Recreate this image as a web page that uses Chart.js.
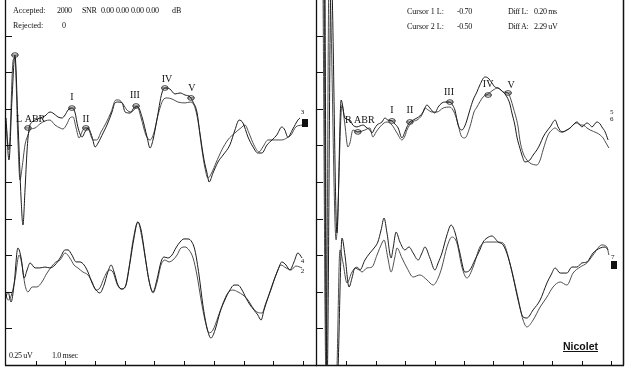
<!DOCTYPE html>
<html><head><meta charset="utf-8">
<script src="https://cdn.jsdelivr.net/npm/chart.js@4.4.1/dist/chart.umd.min.js"></script>
<style>
html,body{margin:0;padding:0;background:#fff;}
#wrap{position:relative;width:626px;height:370px;overflow:hidden;background:#fff;}
canvas{position:absolute;left:0;top:0;}
.t{position:absolute;font-family:"Liberation Serif","DejaVu Serif",serif;font-size:8px;color:#111;white-space:nowrap;line-height:1;}
.n{letter-spacing:-0.35px;}
.nic{position:absolute;left:563px;top:341px;font-family:"Liberation Sans",Arial,sans-serif;font-weight:bold;font-size:10.5px;color:#111;text-decoration:underline;line-height:1;}
</style></head><body>
<div id="wrap">
<canvas id="cl" width="626" height="370"></canvas>
<canvas id="cr" width="626" height="370"></canvas>
<div class="t" style="left:13px;top:7px">Accepted:</div>
<div class="t n" style="left:57px;top:7px">2000</div>
<div class="t n" style="left:82px;top:7px">SNR</div>
<div class="t n" style="left:101px;top:7px">0.00</div>
<div class="t n" style="left:116px;top:7px">0.00</div>
<div class="t n" style="left:131px;top:7px">0.00</div>
<div class="t n" style="left:146px;top:7px">0.00</div>
<div class="t" style="left:172px;top:7px">dB</div>
<div class="t" style="left:13px;top:22px">Rejected:</div>
<div class="t" style="left:62px;top:22px">0</div>
<div class="t" style="left:407px;top:8px">Cursor 1 L:</div>
<div class="t n" style="left:457px;top:8px">-0.70</div>
<div class="t n" style="left:508px;top:8px">Diff L:</div>
<div class="t n" style="left:534px;top:8px">0.20 ms</div>
<div class="t" style="left:407px;top:23px">Cursor 2 L:</div>
<div class="t n" style="left:457px;top:23px">-0.50</div>
<div class="t n" style="left:508px;top:23px">Diff A:</div>
<div class="t n" style="left:534px;top:23px">2.29 uV</div>
<div class="t n" style="left:9px;top:352px">0.25 uV</div>
<div class="t n" style="left:52px;top:352px">1.0 msec</div>
<div class="nic">Nicolet</div>
</div>
<script>
// ---- axis ticks (ms and µV) ----
const msTicks = [1,2,3,4,5,6,7,8,9,10];
const uvTicks = [0.25,0.5,0.75,1.0,1.25,1.5,1.75,2.0,2.25];

// ---- Left ear, upper pair ----
const ulA_t = [0,0.10,0.20,0.30,0.40,0.51,0.57,0.64,0.71,0.77,0.88,0.98,1.14,1.31,1.48,1.58,1.75,1.89,1.99,2.09,2.22,2.32,2.42,2.56,2.66,2.76,2.90,3.00,3.10,3.27,3.40,3.57,3.67,3.77,3.91,4.01,4.18,4.34,4.44,4.58,4.75,4.85,4.95,5.08,5.25,5.35,5.52,5.69,5.86,6.03,6.20,6.30,6.43,6.53,6.67,6.77,6.84,6.97,7.14,7.31,7.54,7.71,7.85,7.98,8.15,8.32,8.48,8.62,8.79,8.96,9.12,9.29,9.39,9.49,9.66,9.83,9.90];
const ulA_v = [1.687,1.400,1.810,2.117,1.673,1.127,0.956,1.195,1.469,1.605,1.660,1.673,1.687,1.701,1.728,1.721,1.694,1.687,1.708,1.742,1.755,1.728,1.626,1.557,1.592,1.619,1.557,1.489,1.516,1.585,1.639,1.728,1.790,1.796,1.790,1.728,1.721,1.762,1.762,1.694,1.557,1.482,1.537,1.673,1.858,1.892,1.885,1.851,1.858,1.844,1.831,1.796,1.728,1.585,1.400,1.311,1.250,1.311,1.387,1.434,1.503,1.605,1.673,1.653,1.557,1.489,1.448,1.448,1.503,1.537,1.571,1.626,1.605,1.557,1.612,1.673,1.687];
const ulB_t = [0,0.10,0.24,0.30,0.40,0.47,0.54,0.64,0.74,0.81,0.98,1.14,1.31,1.48,1.65,1.82,1.92,2.05,2.15,2.26,2.36,2.46,2.59,2.69,2.79,2.93,3.06,3.20,3.37,3.54,3.70,3.80,3.94,4.07,4.21,4.31,4.41,4.55,4.71,4.85,4.98,5.12,5.29,5.42,5.59,5.79,6.03,6.20,6.33,6.46,6.60,6.70,6.80,6.94,7.07,7.27,7.47,7.71,7.91,8.05,8.18,8.35,8.52,8.65,8.82,9.06,9.29,9.46,9.60,9.76,9.97];
const ulB_v = [1.639,1.469,2.083,2.097,1.537,1.264,1.346,1.503,1.571,1.605,1.619,1.646,1.667,1.673,1.639,1.619,1.612,1.646,1.687,1.694,1.619,1.551,1.605,1.619,1.605,1.537,1.537,1.592,1.653,1.728,1.810,1.810,1.783,1.742,1.728,1.742,1.769,1.687,1.571,1.537,1.585,1.708,1.810,1.824,1.817,1.796,1.790,1.796,1.776,1.673,1.469,1.346,1.277,1.318,1.380,1.469,1.537,1.585,1.619,1.639,1.585,1.503,1.455,1.489,1.537,1.537,1.537,1.551,1.571,1.626,1.639];

// ---- Left ear, lower pair ----
const llA_t = [-0.03,0.07,0.17,0.27,0.40,0.51,0.61,0.71,0.81,0.98,1.14,1.31,1.48,1.65,1.82,1.99,2.09,2.22,2.36,2.49,2.63,2.76,2.90,3.03,3.16,3.30,3.43,3.54,3.64,3.77,3.91,4.04,4.18,4.31,4.44,4.55,4.68,4.81,4.95,5.08,5.22,5.32,5.45,5.59,5.72,5.86,5.99,6.13,6.26,6.36,6.50,6.63,6.77,6.90,7.04,7.21,7.37,7.54,7.68,7.81,7.95,8.08,8.22,8.35,8.48,8.59,8.69,8.82,8.99,9.16,9.29,9.43,9.56,9.70,9.83,9.97];
const llA_v = [0.444,0.499,0.430,0.546,0.799,0.731,0.594,0.649,0.697,0.663,0.663,0.669,0.663,0.683,0.731,0.786,0.786,0.751,0.704,0.704,0.683,0.635,0.560,0.512,0.492,0.546,0.635,0.683,0.635,0.546,0.519,0.546,0.704,0.867,0.977,0.922,0.751,0.581,0.499,0.581,0.704,0.738,0.731,0.751,0.799,0.840,0.861,0.861,0.840,0.786,0.615,0.410,0.253,0.184,0.239,0.362,0.444,0.512,0.546,0.546,0.512,0.458,0.410,0.376,0.342,0.307,0.376,0.458,0.560,0.649,0.704,0.683,0.649,0.704,0.765,0.731];
const llB_t = [-0.03,0.07,0.17,0.30,0.44,0.54,0.64,0.74,0.88,1.04,1.21,1.38,1.55,1.68,1.82,1.99,2.15,2.29,2.42,2.59,2.76,2.90,3.03,3.16,3.30,3.47,3.60,3.74,3.87,4.01,4.14,4.28,4.44,4.58,4.71,4.85,4.95,5.08,5.22,5.35,5.49,5.62,5.76,5.89,6.03,6.16,6.30,6.43,6.57,6.70,6.84,6.97,7.14,7.31,7.47,7.64,7.81,7.98,8.15,8.32,8.45,8.62,8.75,8.92,9.09,9.26,9.43,9.60,9.76,9.97];
const llB_v = [0.499,0.444,0.471,0.581,0.751,0.683,0.546,0.499,0.533,0.533,0.567,0.628,0.676,0.704,0.717,0.765,0.731,0.683,0.663,0.635,0.615,0.567,0.512,0.526,0.594,0.649,0.635,0.553,0.519,0.533,0.663,0.854,0.977,0.867,0.704,0.546,0.492,0.560,0.683,0.717,0.704,0.717,0.751,0.799,0.806,0.786,0.731,0.615,0.444,0.307,0.219,0.239,0.328,0.423,0.492,0.512,0.499,0.478,0.444,0.389,0.362,0.355,0.423,0.512,0.615,0.683,0.663,0.649,0.676,0.663];

// ---- Right ear, upper pair ----
const urA_t = [0.27,0.34,0.48,0.68,0.82,0.95,1.12,1.22,1.36,1.46,1.56,1.70,1.80,1.87,1.97,2.04,2.21,2.31,2.41,2.55,2.65,2.76,2.89,2.99,3.06,3.16,3.27,3.40,3.50,3.61,3.74,3.84,4.01,4.12,4.25,4.35,4.52,4.63,4.69,4.80,4.93,5.03,5.10,5.20,5.31,5.44,5.54,5.71,5.82,5.95,6.05,6.16,6.29,6.46,6.56,6.63,6.73,6.80,6.90,6.97,7.07,7.24,7.35,7.48,7.59,7.69,7.82,7.93,8.10,8.20,8.33,8.50,8.61,8.71,8.84,8.95,9.01,9.18,9.29,9.35,9.52,9.63,9.69,9.80,9.90];
const urA_v = [2.70,-0.15,2.70,0.902,1.810,1.687,1.673,1.639,1.626,1.633,1.639,1.619,1.605,1.585,1.619,1.639,1.660,1.687,1.673,1.667,1.646,1.619,1.551,1.592,1.626,1.660,1.673,1.687,1.701,1.728,1.776,1.755,1.721,1.762,1.790,1.796,1.796,1.769,1.742,1.639,1.605,1.633,1.673,1.742,1.810,1.865,1.913,1.967,1.960,1.926,1.899,1.892,1.872,1.831,1.783,1.721,1.639,1.557,1.482,1.434,1.387,1.400,1.434,1.469,1.510,1.557,1.598,1.626,1.673,1.626,1.592,1.605,1.619,1.639,1.660,1.639,1.626,1.653,1.639,1.626,1.660,1.646,1.626,1.592,1.537];
const urB_t = [0.24,0.31,0.41,0.65,0.85,0.95,1.05,1.12,1.22,1.39,1.53,1.63,1.80,1.90,2.01,2.14,2.28,2.38,2.55,2.72,2.89,2.99,3.06,3.23,3.40,3.57,3.67,3.78,3.91,4.08,4.29,4.52,4.66,4.76,4.93,5.03,5.20,5.34,5.44,5.65,5.82,5.99,6.16,6.33,6.50,6.60,6.67,6.84,6.90,7.01,7.14,7.24,7.48,7.59,7.69,7.86,7.99,8.10,8.27,8.37,8.50,8.61,8.74,8.84,8.95,9.05,9.18,9.29,9.52,9.63,9.73,9.83,9.93];
const urB_v = [2.70,-0.15,2.70,0.854,1.776,1.639,1.489,1.516,1.605,1.592,1.598,1.605,1.619,1.557,1.592,1.626,1.653,1.660,1.639,1.585,1.537,1.564,1.605,1.660,1.673,1.708,1.755,1.742,1.728,1.728,1.755,1.762,1.728,1.673,1.557,1.551,1.626,1.728,1.762,1.831,1.851,1.878,1.892,1.865,1.858,1.810,1.762,1.626,1.537,1.448,1.400,1.380,1.366,1.400,1.469,1.571,1.605,1.619,1.592,1.592,1.605,1.619,1.646,1.653,1.639,1.639,1.619,1.605,1.585,1.571,1.551,1.516,1.482];

// ---- Right ear, lower pair ----
const lrA_t = [0.24,0.34,0.68,0.85,0.95,1.09,1.19,1.29,1.46,1.63,1.80,1.97,2.07,2.18,2.28,2.38,2.52,2.59,2.69,2.82,2.99,3.13,3.27,3.44,3.57,3.67,3.84,4.01,4.12,4.25,4.42,4.56,4.69,4.86,5.03,5.20,5.37,5.54,5.65,5.78,5.95,6.16,6.33,6.50,6.67,6.84,7.01,7.14,7.35,7.59,7.82,7.96,8.10,8.27,8.50,8.67,8.84,9.01,9.18,9.39,9.63,9.80,9.90];
const lrA_v = [2.70,-0.15,-0.15,0.867,0.751,0.533,0.594,0.663,0.649,0.717,0.765,0.806,0.840,0.922,1.004,0.902,0.731,0.799,0.908,0.840,0.786,0.806,0.765,0.717,0.765,0.806,0.731,0.649,0.697,0.765,0.888,0.956,0.908,0.765,0.635,0.649,0.717,0.786,0.840,0.867,0.881,0.840,0.820,0.738,0.601,0.444,0.328,0.321,0.376,0.444,0.560,0.615,0.663,0.628,0.628,0.669,0.669,0.697,0.704,0.765,0.799,0.806,0.786];
const lrB_t = [0.20,0.31,0.65,0.78,0.88,1.02,1.19,1.36,1.53,1.70,1.87,2.04,2.21,2.28,2.41,2.52,2.65,2.72,2.89,3.06,3.27,3.50,3.74,3.95,4.12,4.25,4.42,4.59,4.76,4.93,5.10,5.31,5.54,5.78,6.12,6.33,6.56,6.80,7.01,7.14,7.35,7.59,7.82,8.03,8.27,8.50,8.71,8.95,9.18,9.39,9.69,9.86,9.93];
const lrB_v = [2.70,-0.15,-0.15,0.786,0.704,0.560,0.635,0.669,0.635,0.663,0.669,0.751,0.833,0.854,0.731,0.635,0.738,0.799,0.731,0.663,0.601,0.615,0.581,0.546,0.594,0.669,0.806,0.874,0.833,0.669,0.594,0.669,0.806,0.840,0.840,0.833,0.697,0.492,0.307,0.260,0.307,0.396,0.464,0.533,0.567,0.546,0.628,0.669,0.697,0.751,0.820,0.806,0.751];

// ---- peak cursors (ms, µV) ----
const leftMarkT = [0.30,0.74,2.22,2.69,4.38,5.35,6.23];
const leftMarkV = [2.117,1.619,1.755,1.619,1.769,1.892,1.824];
const rightMarkT = [1.39,2.55,3.16,4.52,5.82,6.50];
const rightMarkV = [1.592,1.667,1.660,1.796,1.844,1.858];

// ---- peak labels ----
const leftLabText = ['L ABR','I','II','III','IV','V'];
const leftLabT = [0.34,2.22,2.69,4.34,5.42,6.26];
const leftLabV = [1.660,1.810,1.660,1.824,1.933,1.872];
const leftLabAlign = ['left','center','center','center','center','center'];
const rightLabText = ['R ABR','I','II','III','IV','V'];
const rightLabT = [0.95,2.55,3.16,4.49,5.82,6.60];
const rightLabV = [1.653,1.721,1.721,1.844,1.899,1.892];
const rightLabAlign = ['left','center','center','center','center','center'];

// ---- trace numbers ----
const leftNumText = ['3','4','2'];
const leftNumT = [9.93,9.93,9.93];
const leftNumV = [1.714,0.697,0.628];
const rightNumText = ['5','6','7'];
const rightNumT = [9.97,9.97,10.0];
const rightNumV = [1.714,1.667,0.724];
// selected-trace squares (centre, ms / µV)
const leftSqT = [10.07], leftSqV = [1.656];
const rightSqT = [10.085], rightSqV = [0.680];

function pts(ts, vs){ const n=Math.min(ts.length,vs.length); const o=[]; for(let i=0;i<n;i++) o.push({x:ts[i],y:vs[i]}); return o; }
function ds(ts, vs, col){ return {data:pts(ts,vs), borderColor:col, borderWidth:1, pointRadius:0, fill:false, cubicInterpolationMode:'monotone'}; }

const abrPlugin = {
  id:'abr',
  afterDatasetsDraw(chart, args, o){
    const ctx=chart.ctx, xs=chart.scales.x, ys=chart.scales.y, a=chart.chartArea;
    ctx.save();
    ctx.strokeStyle='#111';
    ctx.lineWidth=1.3;
    ctx.beginPath();
    ctx.moveTo(a.left+0.5,0); ctx.lineTo(a.left+0.5,a.bottom+0.5);
    ctx.stroke();
    ctx.lineWidth=1.6;
    ctx.beginPath();
    ctx.moveTo(a.left,a.bottom+0.5); ctx.lineTo(a.right+1,a.bottom+0.5);
    ctx.stroke();
    if(o.rightFrame){
      ctx.lineWidth=1.5;
      ctx.beginPath(); ctx.moveTo(a.right+0.5,0); ctx.lineTo(a.right+0.5,a.bottom+0.5); ctx.stroke();
    }
    ctx.lineWidth=1;
    ctx.beginPath();
    uvTicks.forEach(v=>{ const y=Math.round(ys.getPixelForValue(v))+0.5; ctx.moveTo(a.left,y); ctx.lineTo(a.left+7,y); });
    msTicks.forEach(t=>{ const x=Math.round(xs.getPixelForValue(t))+0.5; ctx.moveTo(x,a.bottom); ctx.lineTo(x,a.bottom-4); });
    ctx.stroke();
    ctx.lineWidth=0.9; ctx.strokeStyle='#222';
    for(let i=0;i<o.markT.length;i++){
      const x=xs.getPixelForValue(o.markT[i]), y=ys.getPixelForValue(o.markV[i]);
      ctx.beginPath(); ctx.ellipse(x,y,3.3,2.3,0,0,Math.PI*2); ctx.stroke();
      ctx.beginPath(); ctx.moveTo(x-3.3,y); ctx.lineTo(x+3.3,y); ctx.stroke();
    }
    ctx.fillStyle='#111';
    ctx.font='10px "Liberation Serif", serif';
    ctx.textBaseline='alphabetic';
    for(let i=0;i<o.labText.length;i++){
      ctx.textAlign=o.labAlign[i];
      ctx.fillText(o.labText[i], xs.getPixelForValue(o.labT[i]), ys.getPixelForValue(o.labV[i]));
    }
    ctx.font='7px "Liberation Serif", serif'; ctx.textAlign='left';
    for(let i=0;i<o.numText.length;i++){
      ctx.fillText(o.numText[i], xs.getPixelForValue(o.numT[i]), ys.getPixelForValue(o.numV[i]));
    }
    for(let i=0;i<o.sqT.length;i++){
      const x=xs.getPixelForValue(o.sqT[i]), y=ys.getPixelForValue(o.sqV[i]);
      ctx.fillRect(Math.round(x-3),Math.round(y-4),6,8);
    }
    ctx.restore();
  }
};

const dark='#1b1b1b', gray='#4d4d4d';
function makeChart(id, datasets, pad, xmax, extra){
  return new Chart(document.getElementById(id), {
    type:'line',
    data:{datasets},
    options:{
      responsive:false, animation:false, devicePixelRatio:1, events:[],
      layout:{padding:pad},
      scales:{
        x:{type:'linear', min:-0.034, max:xmax, display:false},
        y:{type:'linear', min:0, max:2.493, display:false}
      },
      plugins:{legend:{display:false}, tooltip:{enabled:false}, abr:extra}
    },
    plugins:[abrPlugin]
  });
}

makeChart('cl', [
  ds(ulA_t,ulA_v,dark), ds(ulB_t,ulB_v,gray),
  ds(llA_t,llA_v,dark), ds(llB_t,llB_v,gray)
], {left:5,right:310,top:0,bottom:5}, 10.44, {
  rightFrame:false,
  markT:leftMarkT, markV:leftMarkV,
  labText:leftLabText, labT:leftLabT, labV:leftLabV, labAlign:leftLabAlign,
  numText:leftNumText, numT:leftNumT, numV:leftNumV,
  sqT:leftSqT, sqV:leftSqV
});

makeChart('cr', [
  ds(urA_t,urA_v,dark), ds(urB_t,urB_v,gray),
  ds(lrA_t,lrA_v,dark), ds(lrB_t,lrB_v,gray)
], {left:316,right:3,top:0,bottom:5}, 10.408, {
  rightFrame:true,
  markT:rightMarkT, markV:rightMarkV,
  labText:rightLabText, labT:rightLabT, labV:rightLabV, labAlign:rightLabAlign,
  numText:rightNumText, numT:rightNumT, numV:rightNumV,
  sqT:rightSqT, sqV:rightSqV
});
</script>
</body></html>
